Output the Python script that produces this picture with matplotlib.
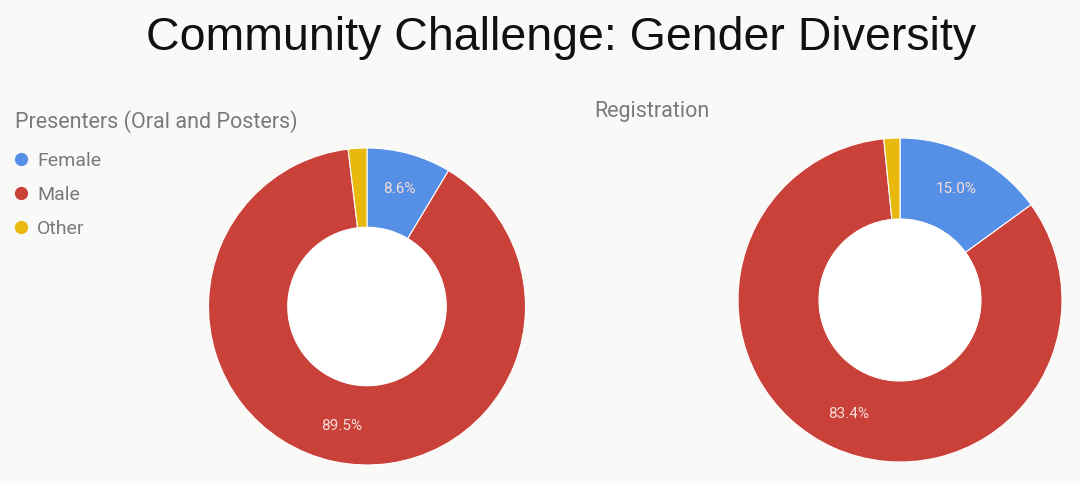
import matplotlib.pyplot as plt
from matplotlib.lines import Line2D
from matplotlib.patches import Circle

# data
categories = ['Female', 'Male', 'Other']
presenters = [8.6, 89.5, 1.9]
registration = [15.0, 83.4, 1.6]
colors = ['#5590e6', '#ca4139', '#e8b80c']

BG = '#f9f9f8'
GREY = '#7a7a7a'

plt.rcParams['font.family'] = ['Roboto', 'DejaVu Sans']

fig = plt.figure(figsize=(10.8, 4.83), dpi=100)
fig.patch.set_facecolor(BG)


def pct_label(p):
    return f'{p:.1f}%' if p > 5 else ''


def donut(ax, values):
    wedges, _, autotexts = ax.pie(
        values, colors=colors, startangle=90, counterclock=False,
        autopct=pct_label, pctdistance=0.77,
        wedgeprops=dict(width=0.5, edgecolor='white', linewidth=0.8),
        textprops=dict(color='#f6dcd8', fontsize=11))
    ax.add_patch(Circle((0, 0), 0.5, facecolor='white', edgecolor='none', zorder=5))
    ax.set_xlim(-1.0, 1.0)
    ax.set_ylim(-1.0, 1.0)
    ax.set_aspect('equal')
    ax.axis('off')
    return wedges


W, H = 1080, 483
def add_donut_axes(cx, cy, r):
    return fig.add_axes([(cx - r) / W, (H - cy - r) / H, 2 * r / W, 2 * r / H])

ax1 = add_donut_axes(367, 306.5, 158.5)
donut(ax1, presenters)
ax2 = add_donut_axes(900, 300, 162)
donut(ax2, registration)

fig.text(561 / W, 1 - 38 / H, 'Community Challenge: Gender Diversity',
         ha='center', va='center', fontsize=33.5, color='#111111',
         family=['Liberation Sans', 'DejaVu Sans'])
fig.text(15 / W, 1 - 122 / H, 'Presenters (Oral and Posters)',
         ha='left', va='center', fontsize=15.5, color=GREY)
fig.text(594 / W, 1 - 111 / H, 'Registration',
         ha='left', va='center', fontsize=15.5, color=GREY)

handles = [Line2D([], [], marker='o', linestyle='none', markersize=8.5,
                  markerfacecolor=c, markeredgecolor=c) for c in colors]
leg = fig.legend(handles, categories, loc='upper left',
                 bbox_to_anchor=(13 / W, 1 - 152 / H), frameon=False,
                 fontsize=14, labelspacing=0.83, handletextpad=0.44,
                 handlelength=0.8, borderpad=0, borderaxespad=0)
for t in leg.get_texts():
    t.set_color(GREY)

fig.savefig('out.png', dpi=100, facecolor=BG)
